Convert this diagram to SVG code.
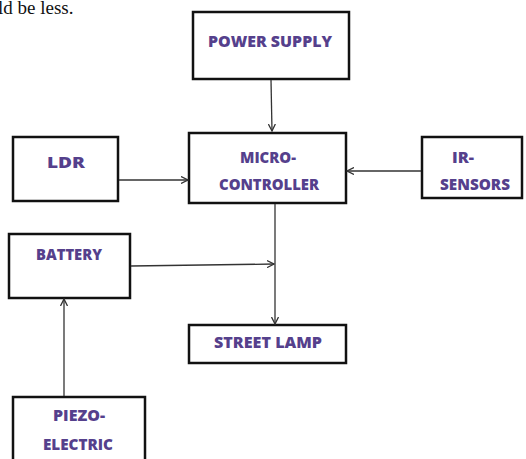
<svg xmlns="http://www.w3.org/2000/svg" width="526" height="459" viewBox="0 0 526 459">
<defs>
<marker id="ah" markerWidth="8" markerHeight="8" refX="7" refY="4" orient="auto" markerUnits="userSpaceOnUse">
<path d="M0,0.5 L7,4 L0,7.5" fill="none" stroke="#333" stroke-width="1.3"/>
</marker>
</defs>
<style>
.box{fill:#fff;stroke:#111;stroke-width:2.5}
.lbl{font-family:"Open Sans","Liberation Sans",sans-serif;font-weight:800;font-size:15px;fill:#55408c;text-anchor:middle}
.ln{stroke:#333;stroke-width:1.3;fill:none}
</style>
<rect width="526" height="459" fill="#fff"/>
<text x="-2" y="14" font-family="Liberation Serif, serif" font-size="19" fill="#111">ld be less.</text>
<g id="power">
<rect class="box" x="193" y="12" width="156" height="67"/>
<text class="lbl" x="270" y="47" textLength="124" lengthAdjust="spacingAndGlyphs">POWER SUPPLY</text>
</g>
<g id="micro">
<rect class="box" x="189" y="133" width="157" height="70"/>
<text class="lbl" x="268" y="163" textLength="56" lengthAdjust="spacingAndGlyphs">MICRO-</text>
<text class="lbl" x="269" y="190" textLength="100" lengthAdjust="spacingAndGlyphs">CONTROLLER</text>
</g>
<g id="ldr">
<rect class="box" x="13" y="137" width="105" height="64"/>
<text class="lbl" x="66" y="168" textLength="38" lengthAdjust="spacingAndGlyphs">LDR</text>
</g>
<g id="ir">
<rect class="box" x="422" y="137" width="100" height="61"/>
<text class="lbl" x="463" y="163" textLength="22" lengthAdjust="spacingAndGlyphs">IR-</text>
<text class="lbl" x="475" y="190" textLength="70" lengthAdjust="spacingAndGlyphs">SENSORS</text>
</g>
<g id="battery">
<rect class="box" x="9" y="234" width="121" height="64"/>
<text class="lbl" x="69" y="260" textLength="66" lengthAdjust="spacingAndGlyphs">BATTERY</text>
</g>
<g id="lamp">
<rect class="box" x="189" y="325" width="157" height="38"/>
<text class="lbl" x="268" y="348" textLength="108" lengthAdjust="spacingAndGlyphs">STREET LAMP</text>
</g>
<g id="piezo">
<rect class="box" x="13" y="397" width="132" height="70"/>
<text class="lbl" x="79" y="421" textLength="52" lengthAdjust="spacingAndGlyphs">PIEZO-</text>
<text class="lbl" x="78" y="450" textLength="70" lengthAdjust="spacingAndGlyphs">ELECTRIC</text>
</g>
<g id="connectors">
<line class="ln" x1="271" y1="80" x2="272" y2="131" marker-end="url(#ah)"/>
<line class="ln" x1="119" y1="180" x2="188" y2="180" marker-end="url(#ah)"/>
<line class="ln" x1="421" y1="171" x2="347" y2="171" marker-end="url(#ah)"/>
<line class="ln" x1="275" y1="204" x2="275" y2="324" marker-end="url(#ah)"/>
<line class="ln" x1="131" y1="266" x2="274" y2="264" marker-end="url(#ah)"/>
<line class="ln" x1="64" y1="396" x2="64" y2="299" marker-end="url(#ah)"/>
</g>
</svg>
